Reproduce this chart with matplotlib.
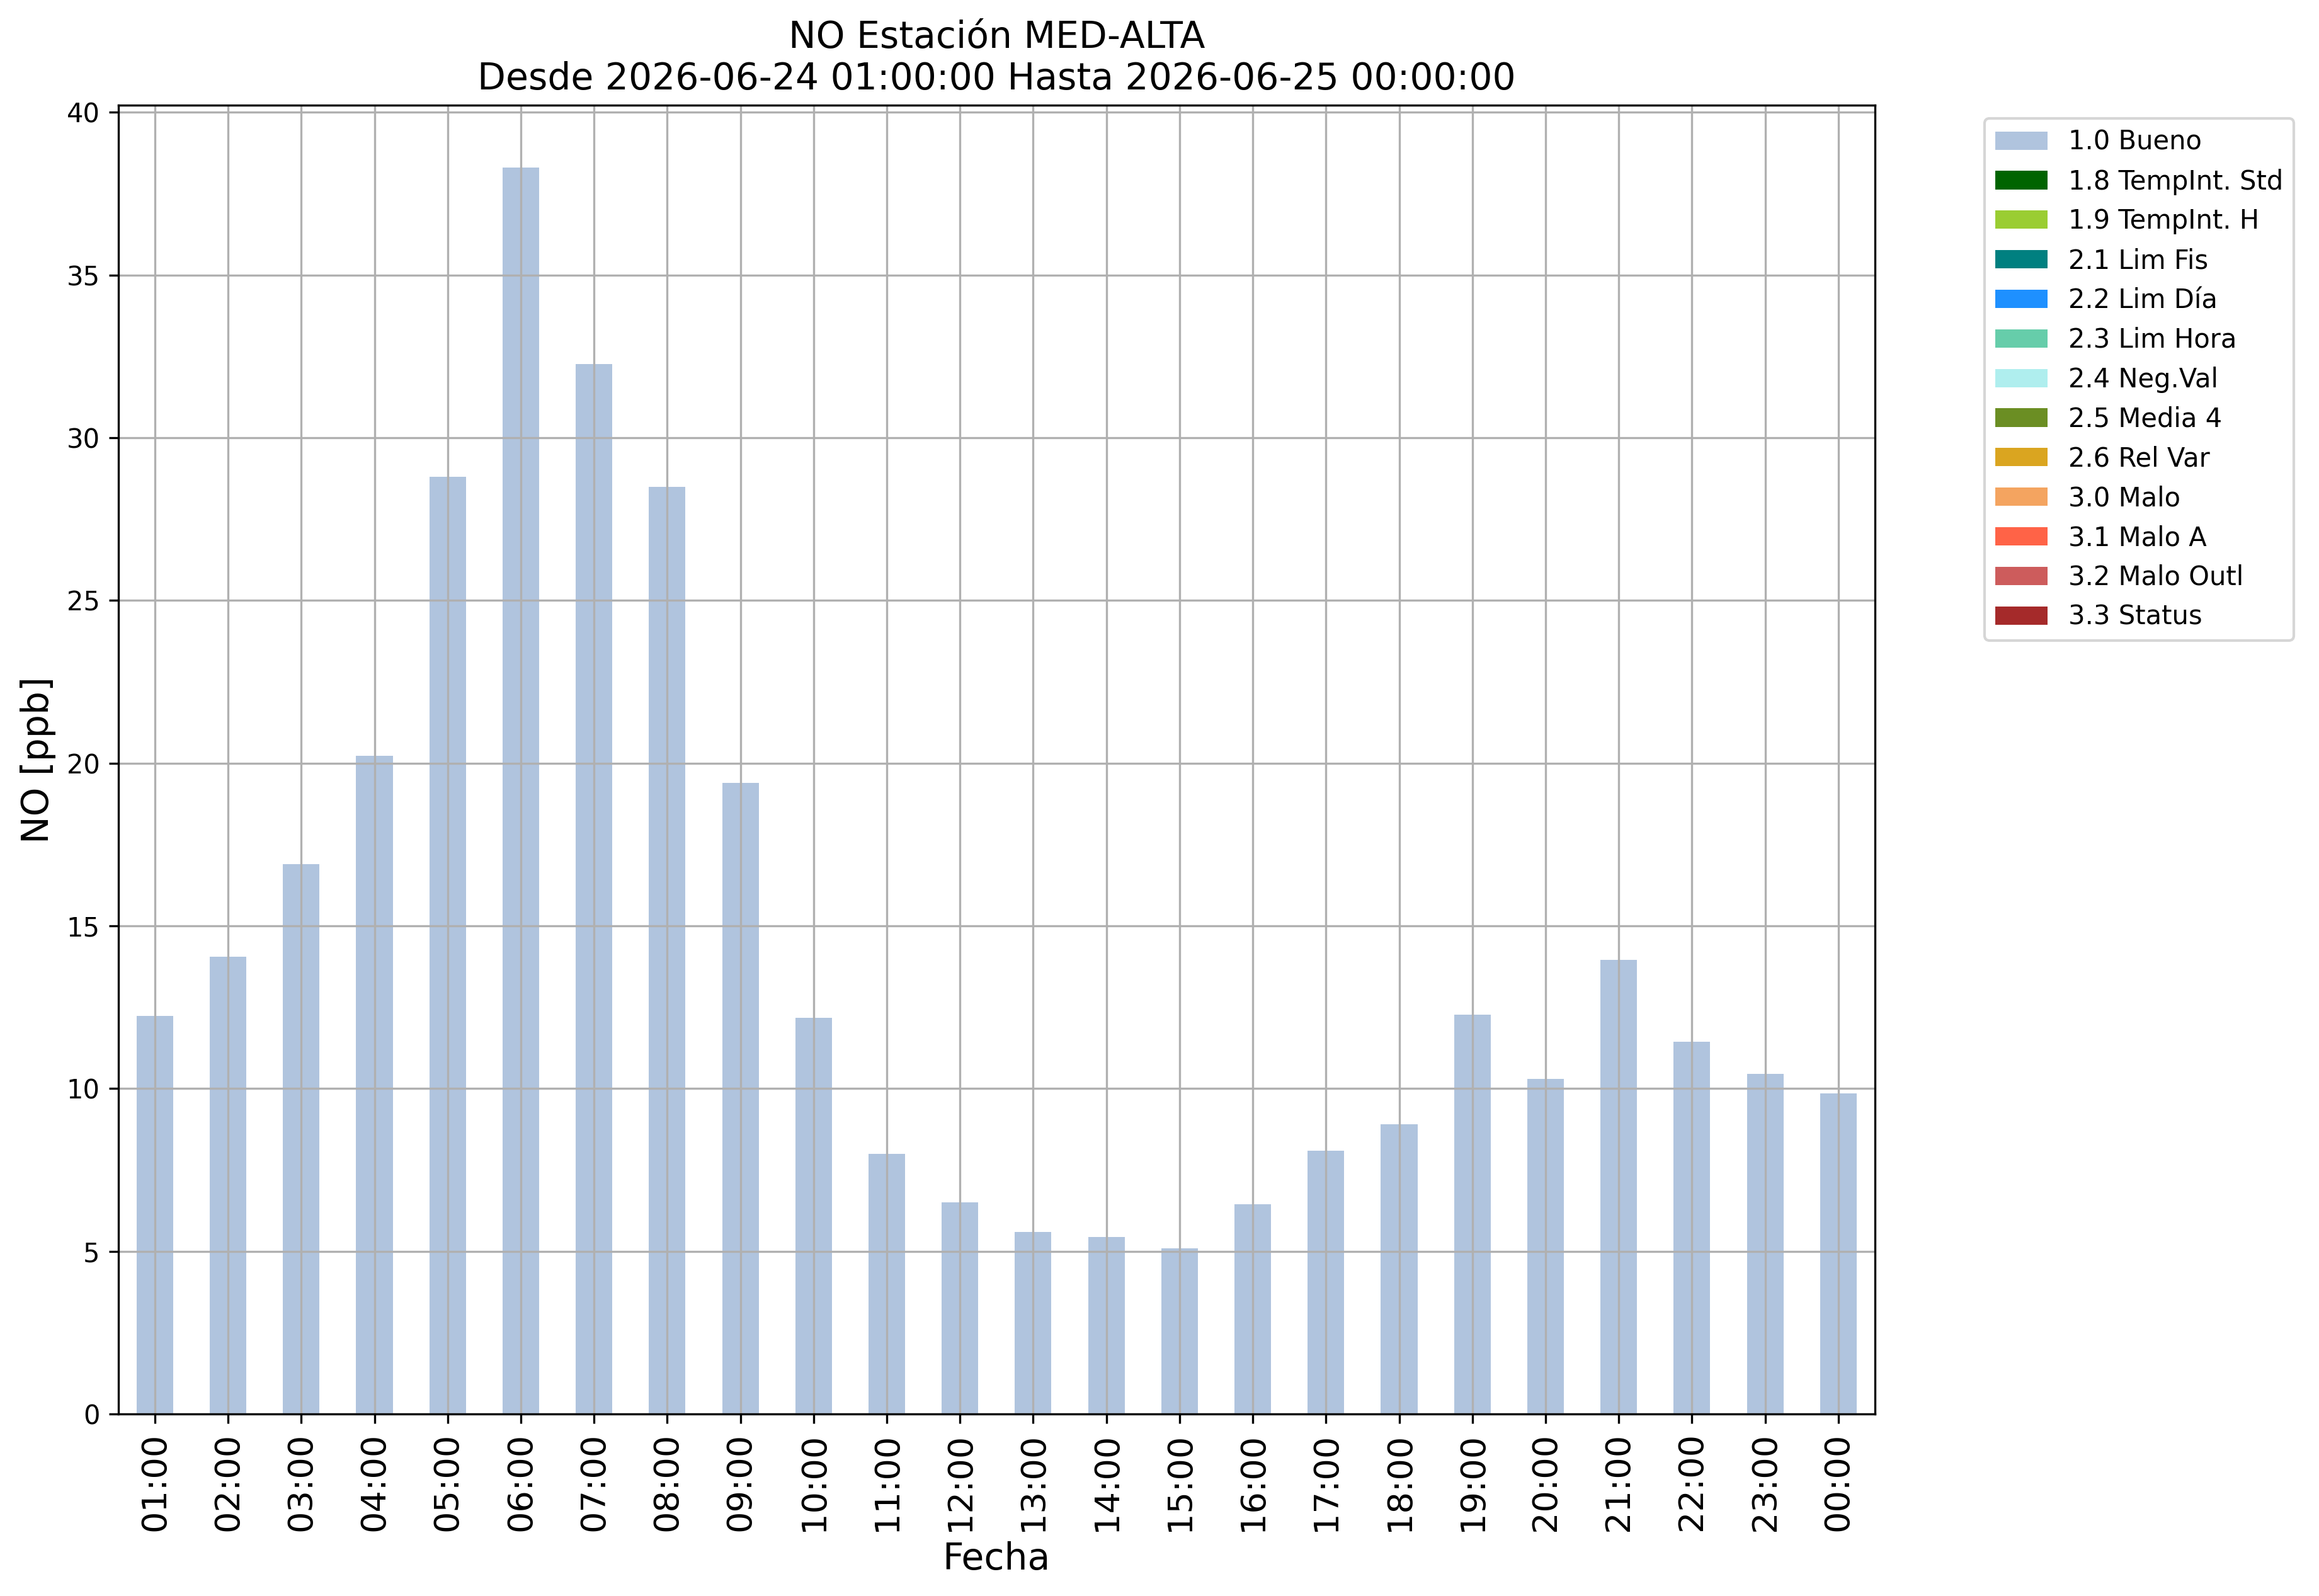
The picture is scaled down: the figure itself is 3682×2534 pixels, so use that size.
import matplotlib
matplotlib.use('Agg')
import matplotlib.pyplot as plt
import numpy as np

# horas del periodo
horas = ['01:00', '02:00', '03:00', '04:00', '05:00', '06:00', '07:00', '08:00',
         '09:00', '10:00', '11:00', '12:00', '13:00', '14:00', '15:00', '16:00',
         '17:00', '18:00', '19:00', '20:00', '21:00', '22:00', '23:00', '00:00']

# valores NO [ppb] con bandera 1.0 Bueno
no_bueno = [12.23, 14.05, 16.9, 20.23, 28.8, 38.3, 32.27, 28.5,
            19.4, 12.18, 8.0, 6.5, 5.6, 5.45, 5.1, 6.45,
            8.1, 8.9, 12.27, 10.3, 13.95, 11.45, 10.45, 9.86]

# banderas de calidad y sus colores
banderas = ['1.0 Bueno', '1.8 TempInt. Std', '1.9 TempInt. H', '2.1 Lim Fis',
            '2.2 Lim Día', '2.3 Lim Hora', '2.4 Neg.Val', '2.5 Media 4',
            '2.6 Rel Var', '3.0 Malo', '3.1 Malo A', '3.2 Malo Outl', '3.3 Status']
colores = ['lightsteelblue', 'darkgreen', 'yellowgreen', 'teal',
           'dodgerblue', 'mediumaquamarine', 'paleturquoise', 'olivedrab',
           'goldenrod', 'sandybrown', 'tomato', 'indianred', 'brown']

fig = plt.figure(figsize=(3682 / 300, 2534 / 300), dpi=300)
ax = fig.add_axes([0.051, 0.114, 0.7575, 0.820])

x = np.arange(len(horas))
fondo = np.zeros(len(horas))
for i, (nombre, color) in enumerate(zip(banderas, colores)):
    valores = np.array(no_bueno) if i == 0 else np.zeros(len(horas))
    ax.bar(x, valores, width=0.5, bottom=fondo, color=color, label=nombre)
    fondo = fondo + valores

ax.set_xlim(-0.5, len(horas) - 0.5)
ax.set_ylim(0, max(no_bueno) * 1.05)
ax.set_xticks(x)
ax.set_xticklabels(horas, rotation=90, fontsize=13)
ax.tick_params(axis='y', labelsize=10)
ax.grid(True)

ax.set_title('NO Estación MED-ALTA\nDesde 2026-06-24 01:00:00 Hasta 2026-06-25 00:00:00', fontsize=14)
ax.set_xlabel('Fecha', fontsize=14)
ax.set_ylabel('NO [ppb]', fontsize=14)
ax.legend(loc='upper left', bbox_to_anchor=(1.055, 1.0), fontsize=10)

plt.savefig('out.png', dpi=300)
